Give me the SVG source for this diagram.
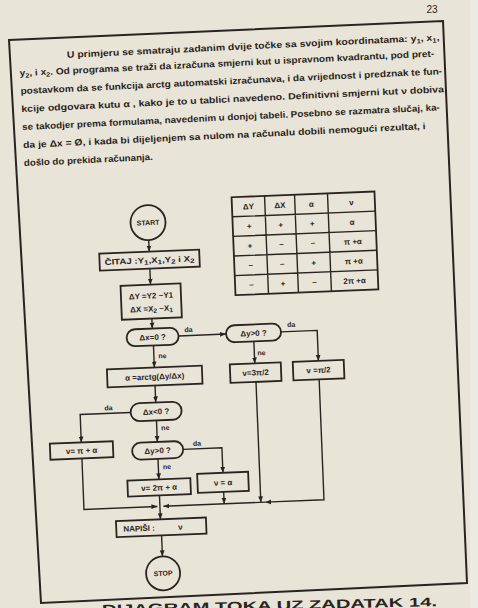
<svg xmlns="http://www.w3.org/2000/svg" width="478" height="608" viewBox="0 0 478 608">
<style>
.t{font-family:"Liberation Sans",Arial,sans-serif;font-weight:bold;fill:#2a2420}
.p{font-size:9px}
.n{font-size:8px}
.s{font-size:6.5px}
.lb{font-size:7px}
.b{fill:none;stroke:#2a2420;stroke-width:1.8}
.c{fill:none;stroke:#2a2420;stroke-width:1.4}
</style>
<defs>
<marker id="ah" viewBox="0 0 8 8" refX="8" refY="4" markerWidth="6" markerHeight="6" orient="auto" markerUnits="userSpaceOnUse"><path d="M0,0.8 L8,4 L0,7.2 z" fill="#2a2420"/></marker>
</defs>
<rect width="478" height="608" fill="#e9e4d8"/>
<rect x="470" y="0" width="8" height="608" fill="#edeae3"/>
<text class="t" x="432" y="13" text-anchor="middle" style="font-size:10px;font-weight:normal">23</text>
<path d="M9,40 L443,21 L467,583 L41,603 Z" fill="none" stroke="#2a2420" stroke-width="2"/>
<text class="t" x="437" y="606" text-anchor="end" textLength="335" lengthAdjust="spacingAndGlyphs" transform="rotate(-1.3 437 606)" style="font-size:12.5px">DIJAGRAM TOKA UZ ZADATAK 14.</text>
<g transform="rotate(-2.3 240 320)">
<g id="paragraph" transform="rotate(-0.4 240 100)">
<text class="t p" x="78" y="50" textLength="373" lengthAdjust="spacingAndGlyphs">U primjeru se smatraju zadanim dvije točke sa svojim koordinatama: y<tspan class="s" dy="2">1</tspan><tspan dy="-2">, x</tspan><tspan class="s" dy="2">1</tspan><tspan dy="-2">,</tspan></text>
<text class="t p" x="30" y="66" textLength="415" lengthAdjust="spacingAndGlyphs">y<tspan class="s" dy="2">2</tspan><tspan dy="-2">, i x</tspan><tspan class="s" dy="2">2</tspan><tspan dy="-2">. Od programa se traži da izračuna smjerni kut u ispravnom kvadrantu, pod pret-</tspan></text>
<text class="t p" x="30" y="84" textLength="422" lengthAdjust="spacingAndGlyphs">postavkom da se funkcija arctg automatski izračunava, i da vrijednost i predznak te fun-</text>
<text class="t p" x="30" y="102" textLength="423" lengthAdjust="spacingAndGlyphs">kcije odgovara kutu α , kako je to u tablici navedeno. Definitivni smjerni kut ν dobiva</text>
<text class="t p" x="30" y="120" textLength="418" lengthAdjust="spacingAndGlyphs">se takodjer prema formulama, navedenim u donjoj tabeli. Posebno se razmatra slučaj, ka-</text>
<text class="t p" x="30" y="138" textLength="403" lengthAdjust="spacingAndGlyphs">da je  Δx  =  Ø, i kada bi dijeljenjem sa nulom na računalu dobili nemogući rezultat, i</text>
<text class="t p" x="30" y="156" textLength="129" lengthAdjust="spacingAndGlyphs">došlo do prekida računanja.</text>
</g>
<g id="table">
<rect class="b" x="236.5" y="197" width="143" height="98"/>
<path class="c" d="M269.5,197 V295 M299.5,197 V295 M332.5,197 V295 M236.5,216.6 H379.5 M236.5,236.2 H379.5 M236.5,255.8 H379.5 M236.5,275.4 H379.5"/>
<g class="t n" text-anchor="middle">
<text x="253" y="209.8">ΔY</text><text x="284.5" y="209.8">ΔX</text><text x="316" y="209.8">α</text><text x="356" y="209.8">ν</text>
<text x="253" y="229.4">+</text><text x="284.5" y="229.4">+</text><text x="316" y="229.4">+</text><text x="356" y="229.4">α</text>
<text x="253" y="249">+</text><text x="284.5" y="249">−</text><text x="316" y="249">−</text><text x="356" y="249">π +α</text>
<text x="253" y="268.6">−</text><text x="284.5" y="268.6">−</text><text x="316" y="268.6">+</text><text x="356" y="268.6">π +α</text>
<text x="253" y="288.2">−</text><text x="284.5" y="288.2">+</text><text x="316" y="288.2">−</text><text x="356" y="288.2">2π +α</text>
</g>
</g>
<g id="connectors">
<path class="c" d="M152,236.5 V248" marker-end="url(#ah)"/>
<path class="c" d="M152,265 V281" marker-end="url(#ah)"/>
<path class="c" d="M152,315 V325" marker-end="url(#ah)"/>
<path class="c" d="M178,333.5 H225.5" marker-end="url(#ah)"/>
<path class="c" d="M280.5,333.5 H316.7 V364" marker-end="url(#ah)"/>
<path class="c" d="M253,342 V364" marker-end="url(#ah)"/>
<path class="c" d="M152.5,342 V364" marker-end="url(#ah)"/>
<path class="c" d="M152.5,382 V399" marker-end="url(#ah)"/>
<path class="c" d="M127,408 H76.5 V436" marker-end="url(#ah)"/>
<path class="c" d="M152.5,417 V438.5" marker-end="url(#ah)"/>
<path class="c" d="M178,447 H216.8 V472" marker-end="url(#ah)"/>
<path class="c" d="M152.5,455.5 V476" marker-end="url(#ah)"/>
<path class="c" d="M76.5,452 V503 H150" marker-end="url(#ah)"/>
<path class="c" d="M152.5,492 V503"/>
<path class="c" d="M216.8,491 V503" marker-end="url(#ah)"/>
<path class="c" d="M253.5,382.5 V503" marker-end="url(#ah)"/>
<path class="c" d="M316.7,382.5 V503 H258" marker-end="url(#ah)"/>
<path class="c" d="M258,503 H156" marker-end="url(#ah)"/>
<path class="c" d="M152.5,503 V516" marker-end="url(#ah)"/>
<path class="c" d="M153,532 V553" marker-end="url(#ah)"/>
<g class="t lb">
<text x="184" y="330">da</text>
<text x="287" y="329">da</text>
<text x="256" y="356">ne</text>
<text x="157" y="355">ne</text>
<text x="101" y="405">da</text>
<text x="157" y="427">ne</text>
<text x="188" y="444">da</text>
<text x="157" y="466">ne</text>
</g>
</g>
<g id="start"><circle class="b" cx="152" cy="219" r="17.5"/><text class="t s" x="152" y="221.5" text-anchor="middle" style="font-size:7px">START</text></g>
<g id="read"><rect class="b" x="102" y="248" width="100" height="17"/><text class="t n" x="152" y="259.5" text-anchor="middle" textLength="90" lengthAdjust="spacingAndGlyphs">ČITAJ :Y<tspan class="s" dy="1.5">1</tspan><tspan dy="-1.5">,X</tspan><tspan class="s" dy="1.5">1</tspan><tspan dy="-1.5">,Y</tspan><tspan class="s" dy="1.5">2</tspan><tspan dy="-1.5"> i X</tspan><tspan class="s" dy="1.5">2</tspan></text></g>
<g id="delta"><rect class="b" x="122" y="281" width="60" height="34"/><text class="t n" x="152" y="295" text-anchor="middle">ΔY =Y2 −Y1</text><text class="t n" x="152" y="308" text-anchor="middle">ΔX =X<tspan class="s" dy="1.5">2</tspan><tspan dy="-1.5"> −X</tspan><tspan class="s" dy="1.5">1</tspan></text></g>
<g id="dx0"><rect class="b" x="126" y="325" width="52" height="17" rx="8.5"/><text class="t n" x="152" y="336.5" text-anchor="middle">Δx=0 ?</text></g>
<g id="dy0a"><rect class="b" x="225.5" y="325" width="55" height="17" rx="8.5"/><text class="t n" x="253" y="336.5" text-anchor="middle">Δy&gt;0 ?</text></g>
<g id="v32"><rect class="b" x="228" y="364" width="51" height="18.5"/><text class="t n" x="253.5" y="376" text-anchor="middle">ν=3π/2</text></g>
<g id="v12"><rect class="b" x="291" y="364" width="51" height="18.5"/><text class="t n" x="316.5" y="376" text-anchor="middle">ν =π/2</text></g>
<g id="alpha"><rect class="b" x="105" y="364" width="95" height="18"/><text class="t n" x="152.5" y="376" text-anchor="middle">α =arctg(Δy/Δx)</text></g>
<g id="dxlt0"><rect class="b" x="127" y="399" width="51" height="18" rx="9"/><text class="t n" x="152.5" y="411" text-anchor="middle">Δx&lt;0 ?</text></g>
<g id="vpa"><rect class="b" x="45" y="436" width="63" height="16"/><text class="t n" x="76.5" y="447" text-anchor="middle">ν= π + α</text></g>
<g id="dy0b"><rect class="b" x="127" y="438.5" width="51" height="17" rx="8.5"/><text class="t n" x="152.5" y="450" text-anchor="middle">Δy&gt;0 ?</text></g>
<g id="v2pa"><rect class="b" x="121" y="476" width="63" height="16"/><text class="t n" x="152.5" y="487" text-anchor="middle">ν= 2π + α</text></g>
<g id="va"><rect class="b" x="191" y="472" width="51" height="19"/><text class="t n" x="216.5" y="484.5" text-anchor="middle">ν = α</text></g>
<g id="write"><rect class="b" x="108" y="516" width="90" height="16"/><text class="t n" x="115" y="527">NAPIŠI :</text><text class="t n" x="170" y="527">ν</text></g>
<g id="stop"><circle class="b" cx="153" cy="570" r="17"/><text class="t s" x="153" y="572.5" text-anchor="middle" style="font-size:7px">STOP</text></g>
</g>
</svg>
